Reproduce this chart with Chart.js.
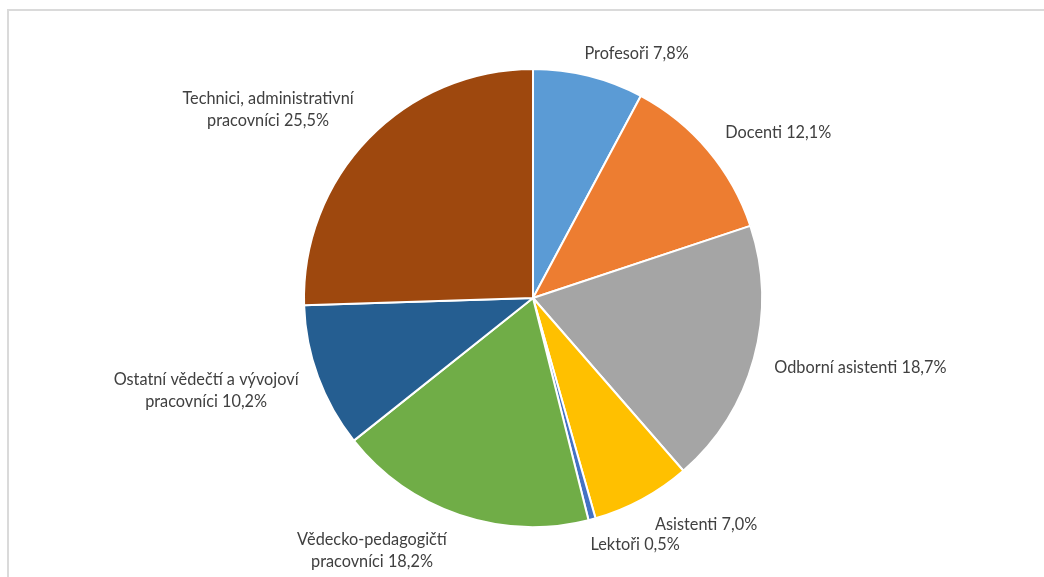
<!DOCTYPE html>
<html lang="cs">
<head>
<meta charset="utf-8">
<title>Struktura zaměstnanců</title>
<script src="https://cdn.jsdelivr.net/npm/chart.js@4/dist/chart.umd.min.js"></script>
<style>
  html, body { margin: 0; padding: 0; background: #ffffff; }
  body { width: 1044px; height: 577px; overflow: hidden; position: relative; }
  #frame {
    position: absolute; left: 7px; top: 9px; width: 1100px; height: 700px;
    border-left: 2px solid #dadada; border-top: 2px solid #dadada;
    box-sizing: border-box;
  }
  #wrap { position: absolute; left: 0; top: 0; width: 1044px; height: 577px; }
</style>
</head>
<body>
<div id="frame"></div>
<div id="wrap"><canvas id="chart" width="1044" height="577"></canvas></div>
<script>
// Employee categories (multi-line names wrap as drawn in the labels)
const categories = [
  ['Profesoři'],
  ['Docenti'],
  ['Odborní asistenti'],
  ['Asistenti'],
  ['Lektoři'],
  ['Vědecko-pedagogičtí', 'pracovníci'],
  ['Ostatní vědečtí a vývojoví', 'pracovníci'],
  ['Technici, administrativní', 'pracovníci']
];
// Share of employees in percent
const shares = [7.8, 12.1, 18.7, 7.0, 0.5, 18.2, 10.2, 25.5];
const sliceColors = ['#5B9BD5', '#ED7D31', '#A5A5A5', '#FFC000', '#4472C4', '#70AD47', '#255E91', '#9E480E'];

// Small shifts of each label box away from its default spot beside the slice
const labelShift = [[32, 2], [19, -2], [10, 3], [33, 3], [28, 1], [-59, 2], [-12, 1], [-29, -4]];

const fmt = v => v.toFixed(1).replace('.', ',') + '%';

const outsideLabels = {
  id: 'outsideLabels',
  afterDatasetsDraw(chart, args, opts) {
    const ctx = chart.ctx;
    const meta = chart.getDatasetMeta(0);
    const values = chart.data.datasets[0].data;
    ctx.save();
    ctx.font = opts.font;
    ctx.fillStyle = opts.color;
    ctx.textAlign = 'center';
    ctx.textBaseline = 'middle';
    meta.data.forEach((arc, i) => {
      const p = arc.getProps(['x', 'y', 'startAngle', 'endAngle', 'outerRadius'], true);
      const mid = (p.startAngle + p.endAngle) / 2;
      const dx = Math.cos(mid), dy = Math.sin(mid);
      const lines = chart.data.labels[i].slice();
      lines[lines.length - 1] = lines[lines.length - 1] + ' ' + fmt(values[i]);
      const w = Math.max(...lines.map(t => ctx.measureText(t).width));
      const h = lines.length * opts.lineHeight;
      const r = p.outerRadius + opts.gap;
      const ax = p.x + dx * r, ay = p.y + dy * r;
      const shift = opts.shift[i] || [0, 0];
      const cx = ax + dx * w / 2 + shift[0];
      const cy = ay + dy * h / 2 + shift[1];
      lines.forEach((t, k) => {
        ctx.fillText(t, cx, cy - h / 2 + opts.lineHeight * (k + 0.5));
      });
    });
    ctx.restore();
  }
};

new Chart(document.getElementById('chart'), {
  type: 'pie',
  data: {
    labels: categories,
    datasets: [{
      data: shares,
      backgroundColor: sliceColors,
      borderColor: '#ffffff',
      borderWidth: 2
    }]
  },
  options: {
    responsive: false,
    animation: false,
    layout: { padding: { top: 68, bottom: 49, left: 303, right: 281 } },
    plugins: {
      legend: { display: false },
      tooltip: { enabled: false },
      outsideLabels: {
        font: '16.3px Lato, "Open Sans", sans-serif',
        color: '#404040',
        lineHeight: 22,
        gap: 14,
        shift: labelShift
      }
    }
  },
  plugins: [outsideLabels]
});
</script>
</body>
</html>
